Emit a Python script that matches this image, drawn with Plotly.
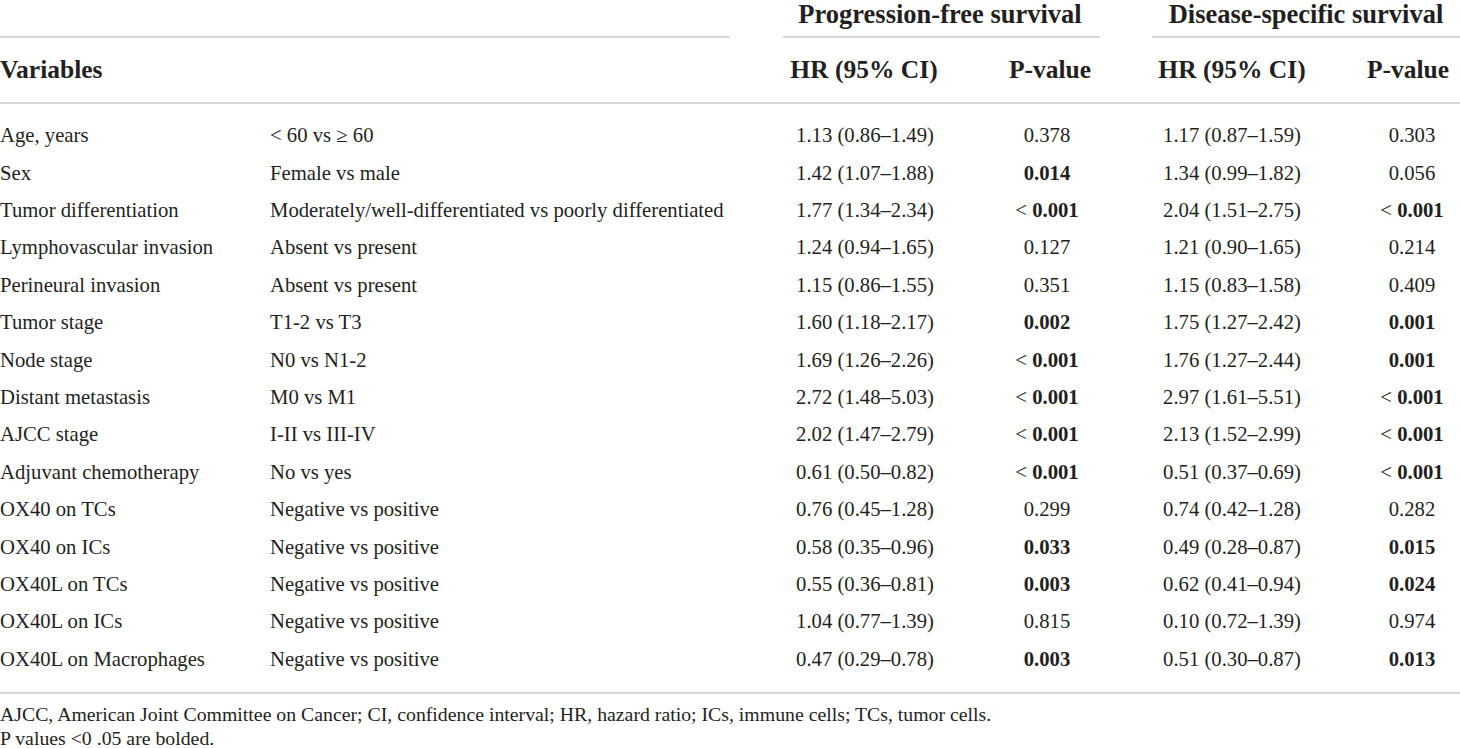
import plotly.graph_objects as go

variables = ["Age, years", "Sex", "Tumor differentiation", "Lymphovascular invasion",
             "Perineural invasion", "Tumor stage", "Node stage", "Distant metastasis",
             "AJCC stage", "Adjuvant chemotherapy", "OX40 on TCs", "OX40 on ICs",
             "OX40L on TCs", "OX40L on ICs", "OX40L on Macrophages"]
comparisons = ["< 60 vs ≥ 60", "Female vs male",
               "Moderately/well-differentiated vs poorly differentiated",
               "Absent vs present", "Absent vs present", "T1-2 vs T3", "N0 vs N1-2",
               "M0 vs M1", "I-II vs III-IV", "No vs yes", "Negative vs positive",
               "Negative vs positive", "Negative vs positive", "Negative vs positive",
               "Negative vs positive"]
pfs_hr = ["1.13 (0.86–1.49)", "1.42 (1.07–1.88)", "1.77 (1.34–2.34)", "1.24 (0.94–1.65)",
          "1.15 (0.86–1.55)", "1.60 (1.18–2.17)", "1.69 (1.26–2.26)", "2.72 (1.48–5.03)",
          "2.02 (1.47–2.79)", "0.61 (0.50–0.82)", "0.76 (0.45–1.28)", "0.58 (0.35–0.96)",
          "0.55 (0.36–0.81)", "1.04 (0.77–1.39)", "0.47 (0.29–0.78)"]
pfs_p = ["0.378", "0.014", "< 0.001", "0.127", "0.351", "0.002", "< 0.001", "< 0.001",
         "< 0.001", "< 0.001", "0.299", "0.033", "0.003", "0.815", "0.003"]
dss_hr = ["1.17 (0.87–1.59)", "1.34 (0.99–1.82)", "2.04 (1.51–2.75)", "1.21 (0.90–1.65)",
          "1.15 (0.83–1.58)", "1.75 (1.27–2.42)", "1.76 (1.27–2.44)", "2.97 (1.61–5.51)",
          "2.13 (1.52–2.99)", "0.51 (0.37–0.69)", "0.74 (0.42–1.28)", "0.49 (0.28–0.87)",
          "0.62 (0.41–0.94)", "0.10 (0.72–1.39)", "0.51 (0.30–0.87)"]
dss_p = ["0.303", "0.056", "< 0.001", "0.214", "0.409", "0.001", "0.001", "< 0.001",
         "< 0.001", "< 0.001", "0.282", "0.015", "0.024", "0.974", "0.013"]
group_headers = ["Progression-free survival", "Disease-specific survival"]
col_headers = ["Variables", "HR (95% CI)", "P-value", "HR (95% CI)", "P-value"]
footnotes = ["AJCC, American Joint Committee on Cancer; CI, confidence interval; HR, hazard ratio; ICs, immune cells; TCs, tumor cells.",
             "P values <0 .05 are bolded."]

FONT = "Liberation Serif"
INK = "#231f20"
RULE = "#c8c8c8"
BODY = 20.7


def fmt_p(p):
    num = p.replace("<", "").strip()
    if float(num) < 0.05:
        return ("< " if p.startswith("<") else "") + "<b>" + num + "</b>"
    return p


# layout geometry
W, H = 1460, 748
row0, step = 137, 37.4
rows = [row0 + i * step for i in range(len(variables))]
x_var, x_cmp = 0, 270
x_cols = [865, 1047, 1232, 1412]
x_hdr = [864, 1050, 1232, 1408]
x_groups = [940, 1306]

fig = go.Figure()


def add_text(xs, ys, texts, pos, size, bold=False):
    t = [("<b>" + s + "</b>") if bold else s for s in texts]
    fig.add_trace(go.Scatter(x=xs, y=ys, text=t, mode="text", textposition=pos,
                             textfont=dict(family=FONT, size=size, color=INK),
                             hoverinfo="skip", showlegend=False, cliponaxis=False))


add_text([x_var] * len(rows), rows, variables, "middle right", BODY)
add_text([x_cmp] * len(rows), rows, comparisons, "middle right", BODY)
for xc, col in zip(x_cols, [pfs_hr, [fmt_p(p) for p in pfs_p], dss_hr, [fmt_p(p) for p in dss_p]]):
    add_text([xc] * len(rows), rows, col, "middle center", BODY)

# headers
add_text([x_var], [72], col_headers[:1], "middle right", 25.5, bold=True)
add_text(x_hdr, [72] * 4, col_headers[1:], "middle center", 25.5, bold=True)
add_text(x_groups, [16] * 2, group_headers, "middle center", 26.5, bold=True)

# footnotes
add_text([x_var, x_var], [716, 740], footnotes, "middle right", 19.8)

# rules
for (x0, x1, y) in [(0, 730, 37), (783, 1100, 37), (1152, W, 37),
                    (0, W, 103), (0, W, 693)]:
    fig.add_shape(type="line", x0=x0, x1=x1, y0=y, y1=y, xref="x", yref="y",
                  line=dict(color=RULE, width=1.6))

fig.update_xaxes(range=[0, W], visible=False, fixedrange=True)
fig.update_yaxes(range=[H, 0], visible=False, fixedrange=True)
fig.update_layout(width=W, height=H, margin=dict(l=0, r=0, t=0, b=0),
                  plot_bgcolor="white", paper_bgcolor="white")
fig.write_html("out.html", config={"displayModeBar": False},
               post_script="document.body.style.margin='0';document.body.style.overflow='hidden';")
